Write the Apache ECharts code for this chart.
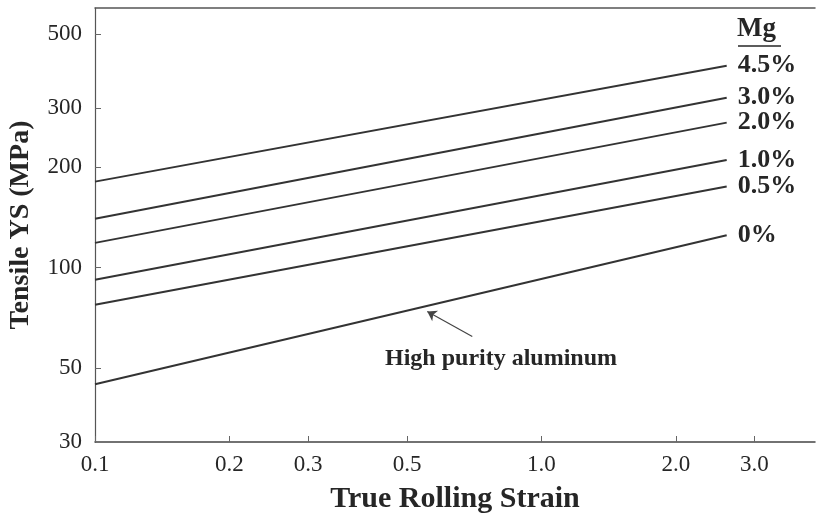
<!DOCTYPE html>
<html>
<head>
<meta charset="utf-8">
<script src="https://cdn.jsdelivr.net/npm/echarts@6/dist/echarts.min.js"></script>
<style>
  html, body { margin: 0; padding: 0; background: #fff; }
  #chart { width: 819px; height: 521px; }
</style>
</head>
<body>
<div id="chart"></div>
<script>
// ---- data ----
const seriesNames = ['4.5%', '3.0%', '2.0%', '1.0%', '0.5%', '0%'];
const strainPoints = [0.1, 2.6];                 // start / end strain of each line
const ysStart = [181, 140, 118.6, 92, 77.4, 44.7]; // MPa at strain 0.1
const ysEnd   = [403, 323, 272, 210, 175, 125];    // MPa at strain 2.6
const xTickValues = [0.1, 0.2, 0.3, 0.5, 1.0, 2.0, 3.0];
const xTickLabels = ['0.1', '0.2', '0.3', '0.5', '1.0', '2.0', '3.0'];
const yTickValues = [30, 50, 100, 200, 300, 500];
const yTickLabels = ['30', '50', '100', '200', '300', '500'];
const arrowTail = [0.70, 62.1];
const arrowHead = [0.555, 73.8];
const annotationText = 'High purity aluminum';
const legendTitle = 'Mg';

const SERIF = '"Liberation Serif", "Times New Roman", serif';
const INK = '#262626';

function lookup(values, labels, v) {
  for (let i = 0; i < values.length; i++) {
    if (Math.abs(values[i] - v) < 1e-6 * Math.max(1, Math.abs(v))) return labels[i];
  }
  return '';
}

const series = seriesNames.map((name, i) => ({
  name: name,
  type: 'line',
  symbol: 'none',
  data: [[strainPoints[0], ysStart[i]], [strainPoints[1], ysEnd[i]]],
  lineStyle: { color: '#333', width: 2 },
  endLabel: {
    show: true,
    formatter: '{a}',
    distance: 11,
    color: INK,
    fontFamily: SERIF,
    fontWeight: 'bold',
    fontSize: 26
  },
  markLine: i === seriesNames.length - 1 ? {
    silent: true,
    symbol: ['none', 'arrow'],
    symbolSize: 9,
    label: { show: false },
    lineStyle: { color: '#444', width: 1.2, type: 'solid' },
    data: [[{ coord: arrowTail }, { coord: arrowHead }]]
  } : undefined
}));

const chart = echarts.init(document.getElementById('chart'), null, { renderer: 'canvas' });
chart.setOption({
  animation: false,
  backgroundColor: '#fff',
  grid: { left: 95, right: 4, top: 8, bottom: 79, containLabel: false, outerBoundsMode: 'none' },
  xAxis: [{
    type: 'log',
    min: 0.1,
    max: 4.1,
    name: 'True Rolling Strain',
    nameLocation: 'middle',
    nameGap: 42,
    nameTextStyle: { fontFamily: SERIF, fontWeight: 'bold', fontSize: 30, color: INK },
    axisLine: { show: true, lineStyle: { color: '#444', width: 1.5 } },
    axisTick: { show: true, inside: true, length: 6, customValues: xTickValues, lineStyle: { color: '#666' } },
    axisLabel: {
      customValues: xTickValues,
      formatter: v => lookup(xTickValues, xTickLabels, v),
      fontFamily: SERIF, fontSize: 23, color: INK, margin: 11
    },
    minorTick: { show: false },
    splitLine: { show: false }
  }, {
    type: 'log',
    position: 'top',
    min: 0.1,
    max: 4.1,
    axisLine: { show: true, lineStyle: { color: '#555', width: 1.5 } },
    axisTick: { show: false },
    axisLabel: { show: false },
    splitLine: { show: false }
  }],
  yAxis: {
    type: 'log',
    min: 30,
    max: 600,
    name: 'Tensile YS (MPa)',
    nameLocation: 'middle',
    nameGap: 60,
    nameTextStyle: { fontFamily: SERIF, fontWeight: 'bold', fontSize: 28, color: INK },
    axisLine: { show: true, lineStyle: { color: '#555', width: 1.2 } },
    axisTick: { show: true, inside: true, length: 6, customValues: yTickValues.slice(1), lineStyle: { color: '#666' } },
    axisLabel: {
      customValues: yTickValues,
      formatter: v => lookup(yTickValues, yTickLabels, v),
      fontFamily: SERIF, fontSize: 23, color: INK, margin: 13
    },
    splitLine: { show: false }
  },
  graphic: [
    {
      type: 'text', left: 737, top: 16,
      style: { text: legendTitle, font: 'bold 27px ' + SERIF, fill: INK }
    },
    {
      type: 'line', shape: { x1: 738, y1: 46, x2: 781, y2: 46 },
      style: { stroke: INK, lineWidth: 1.5 }
    },
    {
      type: 'text', left: 385, top: 347,
      style: { text: annotationText, font: 'bold 24px ' + SERIF, fill: INK }
    }
  ],
  series: series
});
</script>
</body>
</html>
